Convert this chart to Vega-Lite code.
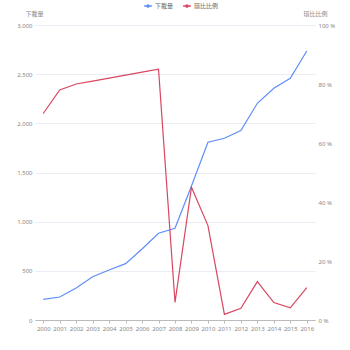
{
  "$schema": "https://vega.github.io/schema/vega-lite/v6.json",
  "width": 280,
  "height": 295,
  "autosize": {"type": "none"},
  "padding": {"left": 35, "top": 25, "right": 35, "bottom": 30},
  "background": "white",
  "config": {
    "view": {"stroke": null},
    "font": "Noto Sans CJK TC",
    "axis": {"labelFont": "Noto Sans", "labelFontSize": 6, "labelColor": "#888", "titleFont": "Noto Sans CJK TC", "titleFontSize": 6, "titleColor": "#888", "titleFontWeight": "normal", "gridColor": "#ececf4", "gridWidth": 1}
  },
  "data": {"values": [
    {"year": "2000", "downloads": 210, "ratio": 70},
    {"year": "2001", "downloads": 234, "ratio": 78},
    {"year": "2002", "downloads": 325, "ratio": 80},
    {"year": "2003", "downloads": 440, "ratio": 81},
    {"year": "2004", "downloads": 508, "ratio": 82},
    {"year": "2005", "downloads": 573, "ratio": 83},
    {"year": "2006", "downloads": 722, "ratio": 84},
    {"year": "2007", "downloads": 882, "ratio": 85},
    {"year": "2008", "downloads": 933, "ratio": 6},
    {"year": "2009", "downloads": 1363, "ratio": 45},
    {"year": "2010", "downloads": 1808, "ratio": 32},
    {"year": "2011", "downloads": 1848, "ratio": 1.9},
    {"year": "2012", "downloads": 1926, "ratio": 4},
    {"year": "2013", "downloads": 2204, "ratio": 13},
    {"year": "2014", "downloads": 2357, "ratio": 5.9},
    {"year": "2015", "downloads": 2459, "ratio": 4.1},
    {"year": "2016", "downloads": 2736, "ratio": 11}
  ]},
  "encoding": {
    "x": {"field": "year", "type": "ordinal", "scale": {"type": "point", "padding": 0.5},
      "axis": {"title": null, "labelAngle": 0, "domainColor": "#bbb", "tickColor": "#bbb", "tickSize": 3, "grid": false, "labelPadding": 2}}
  },
  "layer": [
    {
      "mark": {"type": "line", "strokeWidth": 1.2},
      "encoding": {
        "y": {"field": "downloads", "type": "quantitative", "scale": {"domain": [0, 3000]},
          "axis": {"title": "下載量", "orient": "left", "values": [0, 500, 1000, 1500, 2000, 2500, 3000], "format": ",d", "domain": false, "ticks": false, "labelPadding": 3, "titleAngle": 0, "titleX": 8, "titleY": -9, "titleAlign": "right", "titleBaseline": "bottom"}},
        "color": {"datum": "下載量", "type": "nominal",
          "scale": {"domain": ["下載量", "環比比例"], "range": ["#5e8ef7", "#d9465f"]},
          "legend": {"title": null, "orient": "none", "legendX": 108, "legendY": -24, "direction": "horizontal", "symbolType": "M-1,0L1,0M-0.25,0A0.25,0.25 0 1,1 0.25,0A0.25,0.25 0 1,1 -0.25,0", "symbolStrokeWidth": 1.5, "symbolSize": 60, "labelFontSize": 6, "labelColor": "#666", "columnPadding": 6, "labelOffset": 2}}
      }
    },
    {
      "mark": {"type": "line", "strokeWidth": 1.2},
      "encoding": {
        "y": {"field": "ratio", "type": "quantitative", "scale": {"domain": [0, 100]},
          "axis": {"title": "環比比例", "orient": "right", "values": [0, 20, 40, 60, 80, 100], "labelExpr": "datum.value + ' %'", "domain": false, "ticks": false, "labelPadding": 3, "titleAngle": 0, "titleX": 0, "titleY": -9, "titleAlign": "center", "titleBaseline": "bottom"}},
        "color": {"datum": "環比比例", "type": "nominal"}
      }
    }
  ],
  "resolve": {"scale": {"y": "independent"}}
}
